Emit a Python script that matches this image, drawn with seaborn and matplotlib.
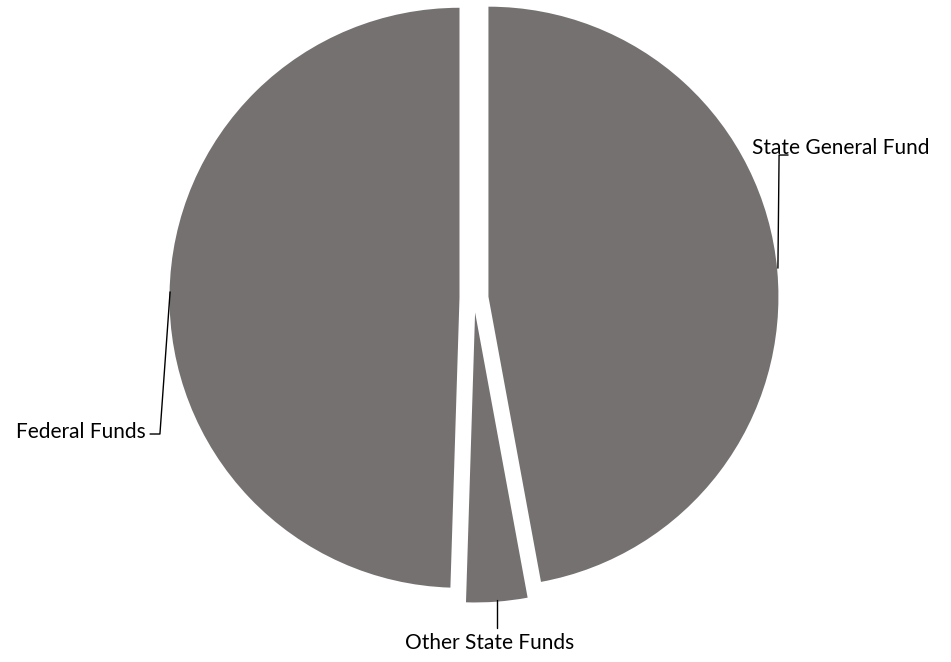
import matplotlib
matplotlib.use("Agg")
import matplotlib.pyplot as plt
import seaborn as sns

# Funding sources (share of total, %)
sources = ["State General Fund", "Other State Funds", "Federal Funds"]
shares = [47.1, 3.4, 49.5]

sns.set_theme(style="white")
plt.rcParams["font.family"] = ["Lato", "DejaVu Sans"]

wedge_color = "#767171"

fig = plt.figure(figsize=(9.51, 6.62), dpi=100)
ax = fig.add_axes([0, 0, 1, 1])

ax.pie(
    shares,
    colors=[wedge_color] * len(shares),
    startangle=90,
    counterclock=False,
    explode=[0.05] * len(shares),
    radius=1.0,
    wedgeprops=dict(linewidth=0),
)

# leader lines and labels
line_kw = dict(color="black", linewidth=1.0)
fs = 15
ax.plot([1.048, 1.052, 1.083], [0.103, 0.493, 0.493], **line_kw)
ax.text(0.959, 0.517, sources[0], ha="left", va="center", fontsize=fs, color="black")

ax.plot([0.079, 0.079], [-1.041, -1.138], **line_kw)
ax.text(0.055, -1.19, sources[1], ha="center", va="center", fontsize=fs, color="black")

ax.plot([-1.048, -1.083, -1.117], [0.021, -0.469, -0.469], **line_kw)
ax.text(-1.131, -0.462, sources[2], ha="right", va="center", fontsize=fs, color="black")

ax.set_xlim(-474 / 290, (951 - 474) / 290)
ax.set_ylim(-(662 - 298) / 290, 298 / 290)
ax.set_aspect("equal")
ax.axis("off")

fig.savefig("out.png", dpi=100, facecolor="white")
